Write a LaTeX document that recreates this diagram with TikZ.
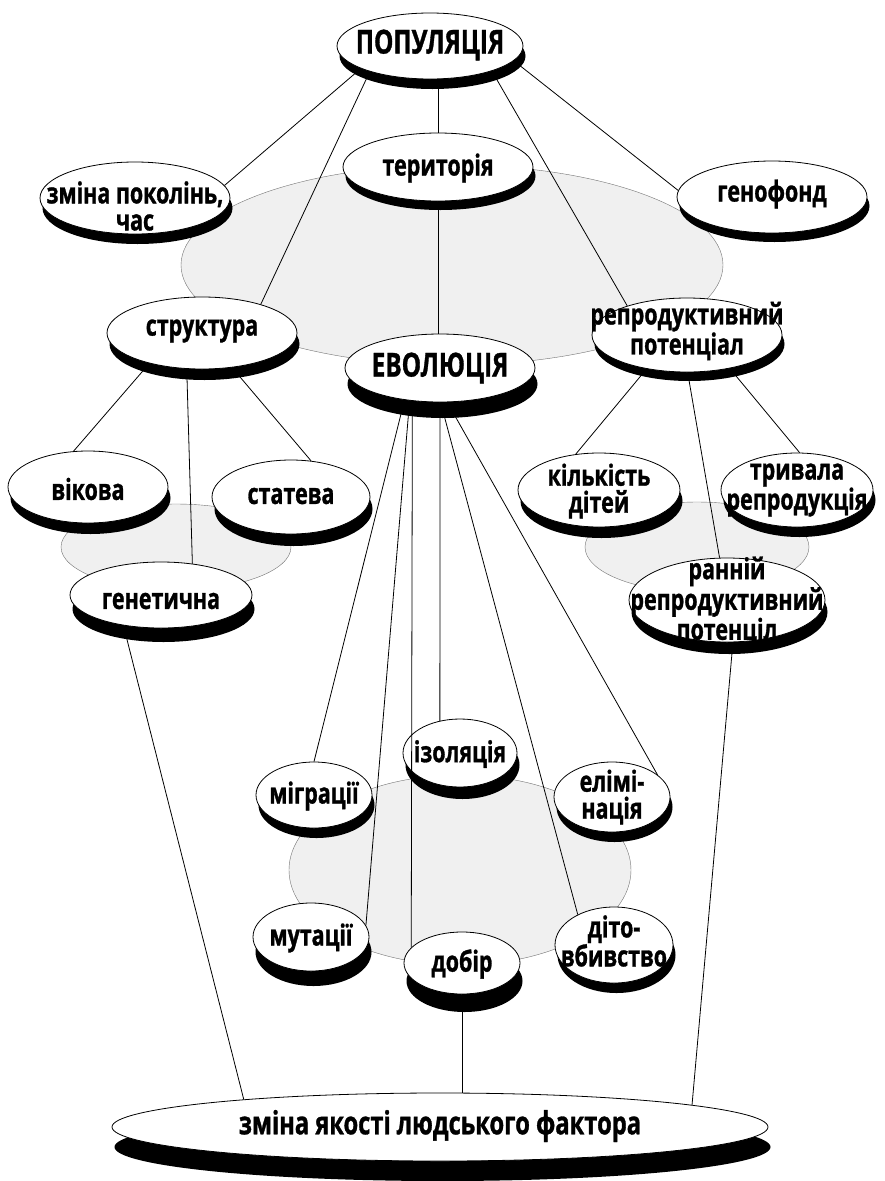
\documentclass[tikz,border=0pt]{standalone}
\usepackage{fontspec}
\setmainfont{Open Sans}[FakeStretch=0.74, BoldFeatures={FakeBold=1}]
\usetikzlibrary{shapes.geometric,shadows}
\tikzset{
  disc/.style={ellipse, draw=black, line width=0.8pt, fill=white, inner sep=0pt,
    drop shadow={shadow xshift=2.5pt, shadow yshift=-#1, fill=black, opacity=1}},
  disc/.default=10pt,
  lbl/.style={font=\bfseries\fontsize{29}{27}\selectfont, align=center, inner sep=0pt},
  big/.style={lbl, font=\bfseries\fontsize{33}{30}\selectfont},
  wide/.style={lbl, font=\bfseries\fontsize{32}{30}\selectfont},
  pool/.style={draw=black!55, line width=0.4pt, fill=black!6},
  link/.style={line width=0.8pt, black},
}
\begin{document}
\begin{tikzpicture}[x=1pt,y=-1pt]
\useasboundingbox[fill=white] (0,0) rectangle (884,1181);

% grey pools
\draw[pool] (452,265) ellipse [x radius=271pt, y radius=100pt];
\draw[pool] (176,547) ellipse [x radius=115pt, y radius=43pt];
\draw[pool] (697,547) ellipse [x radius=112pt, y radius=45pt];
\draw[pool] (460,870) ellipse [x radius=171pt, y radius=95pt];

% discs
\node[disc=10pt, minimum width=186pt, minimum height=66pt] (pop)   at (430,46)  {};
\node[disc=9pt,  minimum width=190pt, minimum height=68pt] (ter)   at (438,167) {};
\node[disc=10pt, minimum width=190pt, minimum height=72pt] (zmina) at (135,198) {};
\node[disc=9pt,  minimum width=190pt, minimum height=72pt] (geno)  at (772,197) {};
\node[disc=11pt, minimum width=190pt, minimum height=72pt] (str)   at (202,333) {};
\node[disc=16pt, minimum width=190pt, minimum height=68pt] (evo)   at (440,368) {};
\node[disc=9pt,  minimum width=190pt, minimum height=74pt] (rep)   at (687,335) {};
\node[disc=11pt, minimum width=160pt, minimum height=72pt] (vik)   at (88,487)  {};
\node[disc=12pt, minimum width=158pt, minimum height=74pt] (stat)  at (291,497) {};
\node[disc=11pt, minimum width=162pt, minimum height=74pt] (kilk)  at (599,490) {};
\node[disc=10pt, minimum width=152pt, minimum height=74pt] (tryv)  at (797,490) {};
\node[disc=14pt, minimum width=182pt, minimum height=66pt] (gen)   at (161,595) {};
\node[disc=12pt, minimum width=196pt, minimum height=84pt] (rann)  at (727,600) {};
\node[disc=12pt, minimum width=114pt, minimum height=68pt] (izol)  at (460,753) {};
\node[disc=10pt, minimum width=116pt, minimum height=66pt] (migr)  at (314,795) {};
\node[disc=10pt, minimum width=116pt, minimum height=70pt] (elim)  at (612,797) {};
\node[disc=15pt, minimum width=116pt, minimum height=68pt] (mut)   at (311,937) {};
\node[disc=18pt, minimum width=116pt, minimum height=62pt] (dobir) at (462,963) {};
\node[disc=10pt, minimum width=118pt, minimum height=76pt] (dito)  at (614,945) {};
\node[disc=20pt, minimum width=656pt, minimum height=68pt] (bot)   at (440,1127) {};

% connectors
\draw[link] (pop.198) -- (zmina.8);
\draw[link] (pop.203) -- (str.26);
\draw[link] (ter.north |- pop.south) -- (ter.north);
\draw[link] (pop.-22) -- (rep.154);
\draw[link] (pop.-10) -- (geno.176);
\draw[link] (ter.south) -- (ter.south |- evo.north);
\draw[link] (str.210) -- (vik.112);
\draw[link] (str.247) -- (gen.45);
\draw[link] (str.-49) -- (stat.61);
\draw[link] (rep.220) -- (kilk.123);
\draw[link] (rep.-89) -- (rann.100);
\draw[link] (rep.-38) -- (tryv.86);
\draw[link] (evo.222) -- (migr.90);
\draw[link] (evo.227) -- (mut.12);
\draw[link] (evo.230) -- (dobir.163);
\draw[link] (evo.south) -- (izol.122);
\draw[link] (evo.-89) -- (dito.140);
\draw[link] (evo.-78) -- (elim.26);
\draw[link] (gen.219) -- (bot.172);
\draw[link] (rann.-82) -- (bot.5);
\draw[link] (dobir.south) -- (dobir.south |- bot.north);

% labels
\node[big] (pop-t)   at (430,45)  {ПОПУЛЯЦІЯ};
\node[lbl] (ter-t)   at (438,168) {територія};
\node[lbl] (zmina-t) at (135,206) {зміна поколінь,\\час};
\node[lbl] (geno-t)  at (772,194) {генофонд};
\node[lbl] (str-t)   at (202,331) {структура};
\node[big] (evo-t)   at (440,368) {ЕВОЛЮЦІЯ};
\node[lbl] (rep-t)   at (687,331) {репродуктивний\\потенціал};
\node[lbl] (vik-t)   at (88,489)  {вікова};
\node[lbl] (stat-t)  at (291,496) {статева};
\node[lbl] (kilk-t)  at (599,491) {кількість\\дітей};
\node[lbl] (tryv-t)  at (797,490) {тривала\\репродукція};
\node[lbl] (gen-t)   at (161,601) {генетична};
\node[lbl, font=\bfseries\fontsize{29}{26}\selectfont] (rann-t) at (727,601) {ранній\\репродуктивний\\потенціл};
\node[lbl] (izol-t)  at (460,754) {ізоляція};
\node[lbl] (migr-t)  at (314,796) {міграції};
\node[lbl] (elim-t)  at (612,797) {елімі-\\нація};
\node[lbl] (mut-t)   at (311,938) {мутації};
\node[lbl] (dobir-t) at (462,964) {добір};
\node[lbl] (dito-t)  at (614,941) {діто-\\вбивство};
\node[wide] (bot-t)  at (440,1126) {зміна якості людського фактора};
\end{tikzpicture}
\end{document}
